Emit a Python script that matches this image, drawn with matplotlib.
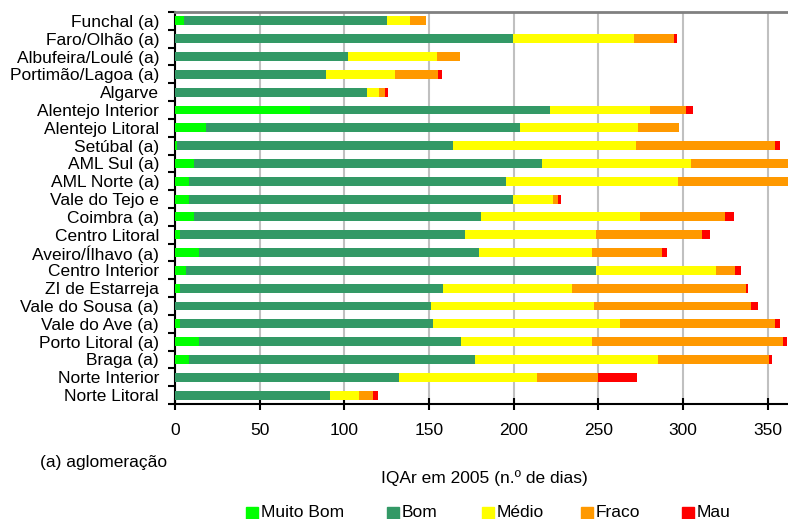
import matplotlib
matplotlib.use("Agg")
import matplotlib.pyplot as plt
from matplotlib.patches import Rectangle
import numpy as np

categories = ["Funchal (a)", "Faro/Olhão (a)", "Albufeira/Loulé (a)", "Portimão/Lagoa (a)",
              "Algarve", "Alentejo Interior", "Alentejo Litoral", "Setúbal (a)", "AML Sul (a)",
              "AML Norte (a)", "Vale do Tejo e", "Coimbra (a)", "Centro Litoral",
              "Aveiro/Ílhavo (a)", "Centro Interior", "ZI de Estarreja", "Vale do Sousa (a)",
              "Vale do Ave (a)", "Porto Litoral (a)", "Braga (a)", "Norte Interior", "Norte Litoral"]

muito_bom = [5.5, 0, 0, 0, 0, 79.5, 18.4, 1, 11.5, 8, 8, 11.5, 3.2, 13.9, 6.6, 3.2, 0, 3.2, 13.9, 8, 0, 0]
bom       = [119.5, 199.5, 102, 89, 113.6, 142.2, 185.6, 163, 205.3, 187.7, 191.5, 169, 167.9, 165.5, 242.1, 154.9, 151.2, 149.2, 154.8, 169, 132.3, 91.3]
medio     = [14, 71.5, 52.7, 41, 7.1, 58.7, 69.3, 108.2, 88.2, 101.3, 23.5, 94, 77.6, 66.9, 70.6, 76.4, 96.1, 110.3, 77.5, 108.2, 81.2, 17.6]
fraco     = [9, 23.6, 13.4, 25.6, 3.5, 21.1, 24.1, 82.1, 60, 66, 3, 50.5, 62.3, 41.2, 11.4, 102.5, 93, 91.6, 112.8, 65.6, 36.2, 8]
mau       = [0, 1.6, 0, 2, 1.6, 4.2, 0, 3, 0, 0, 2, 5.3, 5, 2.8, 3.3, 1.4, 4, 3, 2.4, 1.7, 22.9, 3]

series_names = ["Muito Bom", "Bom", "Médio", "Fraco", "Mau"]
colors = ["#00FF00", "#339966", "#FFFF00", "#FF9900", "#FF0000"]
x_ticks = [0, 50, 100, 150, 200, 250, 300, 350]

plt.rcParams['font.family'] = ['Liberation Sans', 'DejaVu Sans']
FS = 12.5

fig = plt.figure(figsize=(7.88, 5.19), dpi=100)
ax = fig.add_axes([175/788, 1-404/519, (788-175)/788, (404-12)/519])

n = len(categories)
y = np.arange(n)
left = np.zeros(n)
for vals, col, name in zip([muito_bom, bom, medio, fraco, mau], colors, series_names):
    v = np.array(vals, dtype=float)
    ax.barh(y, v, left=left, height=0.5, color=col, label=name, zorder=3)
    left += v

ax.set_ylim(n - 0.5, -0.5)
ax.set_xlim(0, 362)
ax.set_yticks(y)
ax.set_yticklabels(categories, fontsize=FS)
ax.set_xticks(x_ticks)
ax.set_xticklabels([str(t) for t in x_ticks], fontsize=FS)
ax.tick_params(axis='y', length=0, pad=11.5)
ax.tick_params(axis='x', direction='inout', length=8, width=1.5, pad=9.5)
ax.set_yticks(np.arange(-0.5, n, 1), minor=True)
ax.tick_params(axis='y', which='minor', length=5, width=1.5, direction='out')
ax.grid(axis='x', color='#C0C0C0', linewidth=1.5, zorder=0)
for s in ['left', 'bottom']:
    ax.spines[s].set_linewidth(1.5)
    ax.spines[s].set_color('black')
ax.spines['top'].set_color('#808080')
ax.spines['top'].set_linewidth(2)
ax.spines['right'].set_visible(False)

fig.text(40/788, 1-462/519, "(a) aglomeração", fontsize=FS, va='center', ha='left')
fig.text(484/788, 1-478/519, "IQAr em 2005 (n.º de dias)", fontsize=FS, va='center', ha='center')

leg_x = [246, 387, 482, 581, 682]
for lx, col, name in zip(leg_x, colors, series_names):
    fig.add_artist(Rectangle((lx/788, 1-519/519), 12/788, 12/519,
                             transform=fig.transFigure, color=col, clip_on=False))
    fig.text((lx + 15)/788, 1-512.5/519, name, fontsize=FS, va='center', ha='left')

fig.savefig("out.png", dpi=100)
